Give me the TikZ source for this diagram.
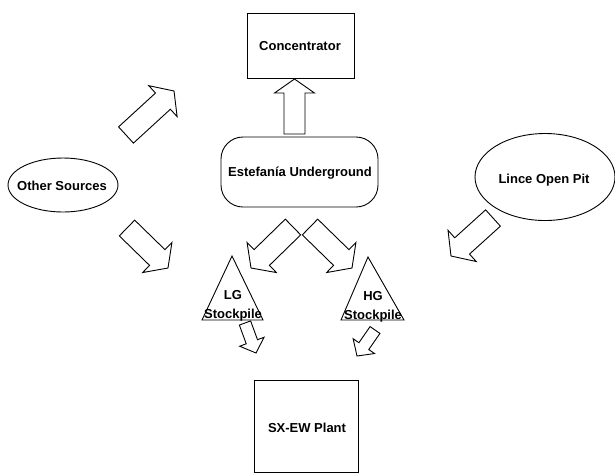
\documentclass[tikz,border=0pt]{standalone}
\usepackage{fontspec}
\setmainfont{Liberation Sans}
\usetikzlibrary{calc,shapes.geometric}
\tikzset{
  lbl/.style={font=\fontsize{13}{15}\selectfont\bfseries, inner sep=0pt, align=center},
  ln/.style={line width=0.9pt, line join=miter},
  boxnode/.style={ln, draw, rectangle, inner sep=0pt},
  ellnode/.style={ln, draw, ellipse, inner sep=0pt},
  barrow/.style={ln, fill=white},
}
\newcommand\blockarr[5]{%
  \coordinate (bah) at ($(#2)!#5!(#1)$);
  \draw[barrow] ($(#1)!#3!90:(#2)$) -- ($(bah)!#3!90:(#2)$) -- ($(bah)!#4!90:(#2)$) -- (#2)
    -- ($(bah)!#4!-90:(#2)$) -- ($(bah)!#3!-90:(#2)$) -- ($(#1)!#3!-90:(#2)$) -- cycle;}
\begin{document}
\begin{tikzpicture}[x=1pt,y=-1pt]
\useasboundingbox (0,0) rectangle (615,475);
% nodes
\node[boxnode, minimum width=107pt, minimum height=65pt] (conc) at (300.5,45.5) {};
\node[lbl] (conct) at (300,46) {Concentrator};
\node[boxnode, rounded corners=22pt, minimum width=157pt, minimum height=70pt] (und) at (299.5,172) {};
\node[lbl] (undt) at (300,173) {Estefanía Underground};
\node[ellnode, minimum width=110pt, minimum height=54pt] (os) at (63,185) {};
\node[lbl] (ost) at (62,186) {Other Sources};
\node[ellnode, minimum width=140pt, minimum height=87pt] (lop) at (545,177) {};
\node[lbl] (lopt) at (544,180) {Lince Open Pit};
\node[boxnode, minimum width=104pt, minimum height=92pt] (sx) at (306,426) {};
\node[lbl] (sxt) at (307,428) {SX-EW Plant};
% triangles
\coordinate (lga) at (232,256);
\coordinate (lgl) at (202,320);
\coordinate (lgr) at (263,320);
\draw[ln] (lga) -- (lgl) -- (lgr) -- cycle;
\node[lbl] (lgt1) at (233,295) {LG};
\node[lbl] (lgt2) at (233,315) {Stockpile};
\coordinate (hga) at (368,257);
\coordinate (hgl) at (341,320);
\coordinate (hgr) at (404,320);
\draw[ln] (hga) -- (hgl) -- (hgr) -- cycle;
\node[lbl] (hgt1) at (373,296) {HG};
\node[lbl] (hgt2) at (373,316) {Stockpile};
% arrow ends
\coordinate (a1t) at (294.5,134); \coordinate (a1h) at (294.5,79);
\coordinate (a2t) at (126,135); \coordinate (a2h) at (174,91);
\coordinate (a3t) at (127,228); \coordinate (a3h) at (168,268);
\coordinate (a4t) at (493,218); \coordinate (a4h) at (451,256);
\coordinate (a5t) at (293,227); \coordinate (a5h) at (251,268);
\coordinate (a6t) at (310,227); \coordinate (a6h) at (352,268);
\coordinate (a7t) at (245,323); \coordinate (a7h) at (256,353);
\coordinate (a8t) at (375,330); \coordinate (a8h) at (357,356);
\blockarr{a1t}{a1h}{10.5pt}{20pt}{14pt}
\blockarr{a2t}{a2h}{11pt}{21pt}{15pt}
\blockarr{a3t}{a3h}{11pt}{21pt}{15pt}
\blockarr{a4t}{a4h}{11pt}{21pt}{15pt}
\blockarr{a5t}{a5h}{11pt}{21pt}{15pt}
\blockarr{a6t}{a6h}{11pt}{21pt}{15pt}
\blockarr{a7t}{a7h}{6pt}{13pt}{12pt}
\blockarr{a8t}{a8h}{6pt}{13pt}{12pt}
\end{tikzpicture}
\end{document}
